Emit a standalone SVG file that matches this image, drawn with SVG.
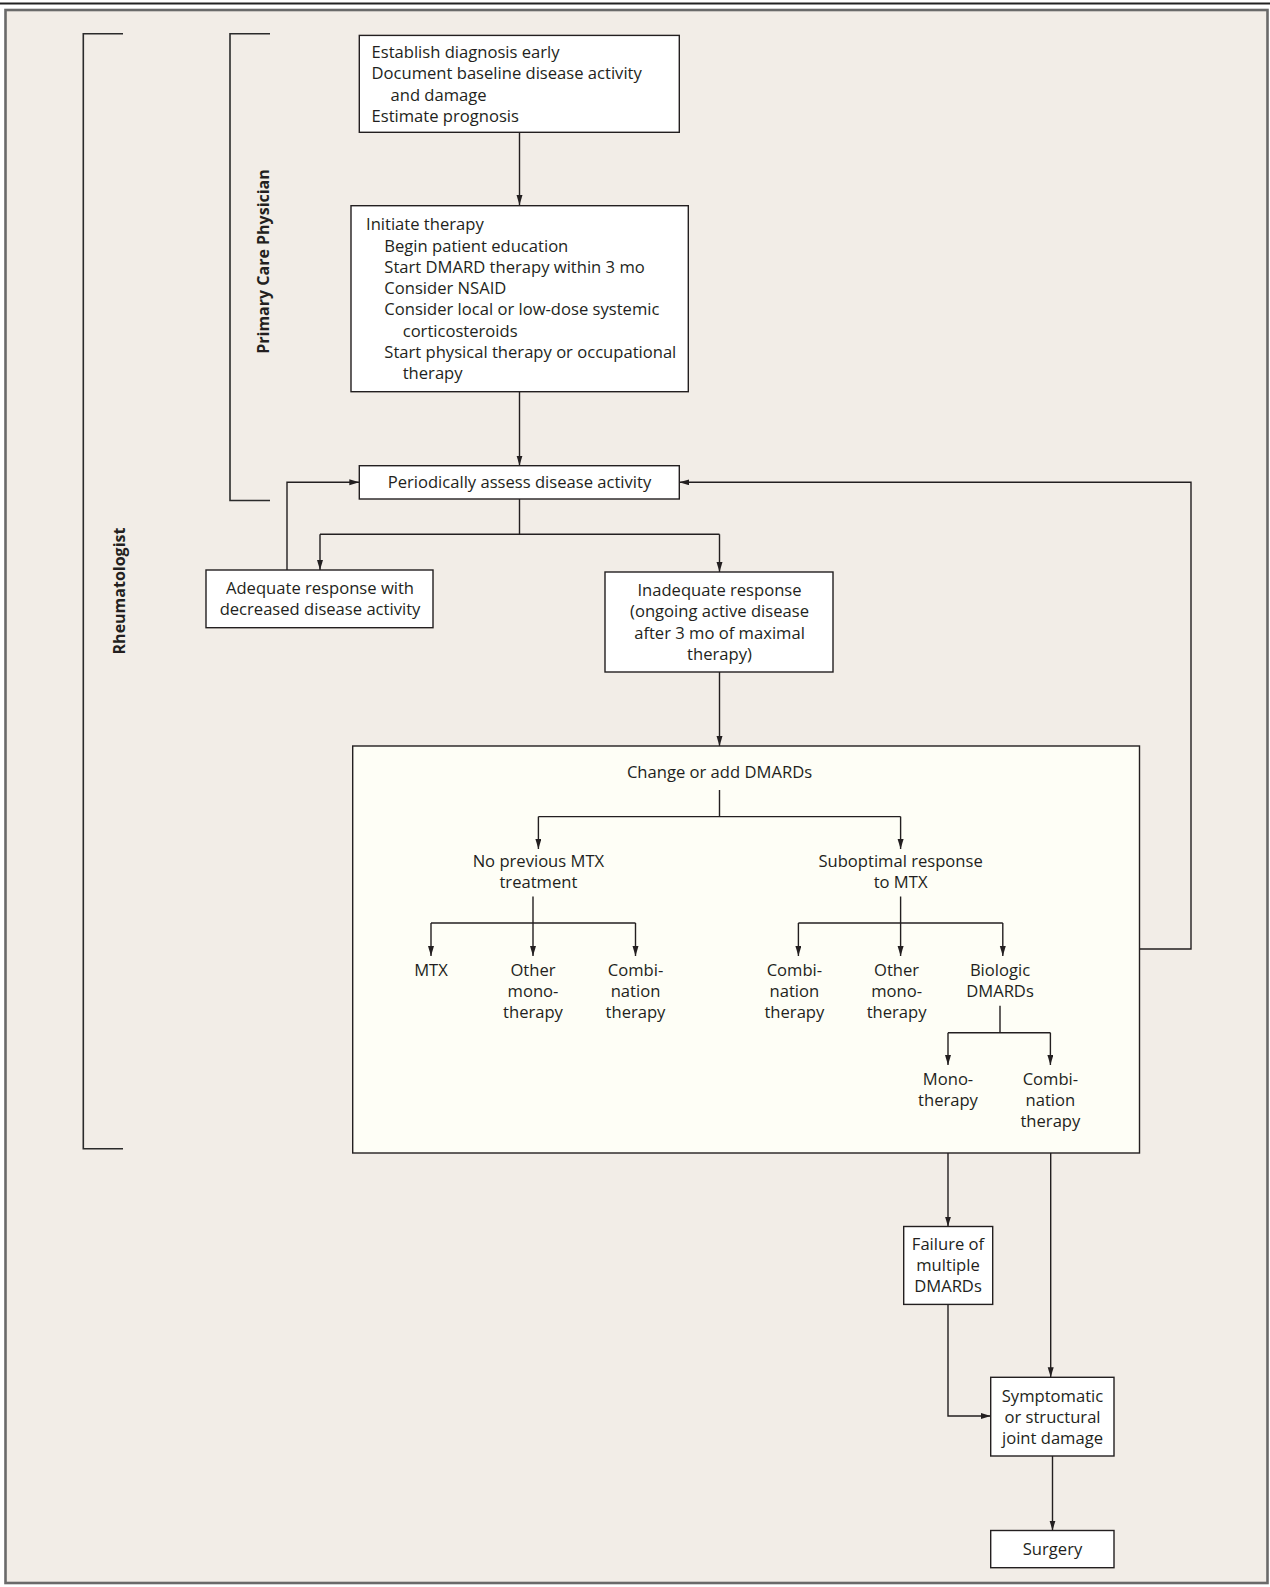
<svg xmlns="http://www.w3.org/2000/svg" width="1270" height="1587" viewBox="0 0 1270 1587">
<defs>
<marker id="ah" markerUnits="userSpaceOnUse" markerWidth="11" markerHeight="7" refX="10" refY="3" orient="auto">
<path d="M0,0 L10,3 L0,6 Z" fill="#231F20"/>
</marker>
<style>
.box{fill:#FFFFFF;stroke:#231F20;stroke-width:1.4}
.big{fill:#FEFEF6;stroke:#231F20;stroke-width:1.4}
.t{font-family:"Open Sans","Liberation Sans",sans-serif;font-size:16.6px;fill:#231F20}
.c{text-anchor:middle}
.lbl{font-family:"Open Sans","Liberation Sans",sans-serif;font-size:16px;font-weight:bold;fill:#231F20;text-anchor:middle}
.ln{fill:none;stroke:#231F20;stroke-width:1.4}
.ar{fill:none;stroke:#231F20;stroke-width:1.4;marker-end:url(#ah)}
.br{fill:none;stroke:#2b2b2b;stroke-width:1.6}
</style>
</defs>
<rect x="0" y="0" width="1270" height="1587" fill="#FFFFFF"/>
<line x1="0" y1="3.5" x2="1270" y2="3.5" stroke="#222" stroke-width="2"/>
<rect x="5.5" y="10" width="1262" height="1573" fill="#F2EDE7" stroke="#6a6a6a" stroke-width="2.6"/>

<g id="bracket-rheumatologist">
<path class="br" d="M123,33.7 H83.3 V1148.7 H123"/>
<text class="lbl" transform="translate(125,591) rotate(-90)">Rheumatologist</text>
</g>
<g id="bracket-pcp">
<path class="br" d="M270,33.7 H230 V500.5 H270"/>
<text class="lbl" transform="translate(268.5,261.5) rotate(-90)">Primary Care Physician</text>
</g>

<g id="connectors">
<line class="ar" x1="519.5" y1="132.3" x2="519.5" y2="205"/>
<line class="ar" x1="519.5" y1="391.7" x2="519.5" y2="465.5"/>
<path class="ln" d="M519.5,499 V534.3 M320,534.3 H719.5"/>
<line class="ar" x1="320" y1="534.3" x2="320" y2="570"/>
<line class="ar" x1="719.5" y1="534.3" x2="719.5" y2="572"/>
<path class="ar" d="M287,570 V482.3 H359.3"/>
<line class="ar" x1="719.5" y1="672" x2="719.5" y2="746"/>
<path class="ar" d="M1139.5,949 H1191 V482.3 H679.3"/>
<line class="ar" x1="948" y1="1153" x2="948" y2="1226.5"/>
<line class="ar" x1="1050.7" y1="1153" x2="1050.7" y2="1377.3"/>
<path class="ar" d="M948,1304.4 V1416 H990.7"/>
<line class="ar" x1="1052.5" y1="1456" x2="1052.5" y2="1530.5"/>
</g>

<g id="n-diagnosis">
<rect class="box" x="359.3" y="35.4" width="320" height="96.9"/>
<text class="t" x="371.5" y="58">Establish diagnosis early</text>
<text class="t" x="371.5" y="79.3">Document baseline disease activity</text>
<text class="t" x="390.5" y="100.6">and damage</text>
<text class="t" x="371.5" y="121.9">Estimate prognosis</text>
</g>

<g id="n-initiate">
<rect class="box" x="351" y="205.7" width="337.3" height="186"/>
<text class="t" x="366" y="230">Initiate therapy</text>
<text class="t" x="384.3" y="251.5">Begin patient education</text>
<text class="t" x="384.3" y="272.8">Start DMARD therapy within 3 mo</text>
<text class="t" x="384.3" y="294">Consider NSAID</text>
<text class="t" x="384.3" y="315.4">Consider local or low-dose systemic</text>
<text class="t" x="402.7" y="336.7">corticosteroids</text>
<text class="t" x="384.3" y="358">Start physical therapy or occupational</text>
<text class="t" x="402.7" y="379.3">therapy</text>
</g>

<g id="n-assess">
<rect class="box" x="359.3" y="465.7" width="320" height="33.3"/>
<text class="t c" x="519.5" y="488.3">Periodically assess disease activity</text>
</g>

<g id="n-adequate">
<rect class="box" x="206" y="570" width="227" height="57.7"/>
<text class="t c" x="320" y="594">Adequate response with</text>
<text class="t c" x="320" y="615.3">decreased disease activity</text>
</g>

<g id="n-inadequate">
<rect class="box" x="605" y="572" width="228" height="100"/>
<text class="t c" x="719.5" y="596">Inadequate response</text>
<text class="t c" x="719.5" y="617.3">(ongoing active disease</text>
<text class="t c" x="719.5" y="638.6">after 3 mo of maximal</text>
<text class="t c" x="719.5" y="659.9">therapy)</text>
</g>

<g id="n-change">
<rect class="big" x="352.7" y="746" width="786.8" height="407"/>
<text class="t c" x="719.5" y="778">Change or add DMARDs</text>
<g id="inner-connectors">
<path class="ln" d="M719.5,790 V816.6 M538.4,816.6 H900.6"/>
<line class="ar" x1="538.4" y1="816.6" x2="538.4" y2="849"/>
<line class="ar" x1="900.6" y1="816.6" x2="900.6" y2="849"/>
<path class="ln" d="M431,923 H635.5"/>
<line class="ar" x1="533" y1="896.5" x2="533" y2="956"/>
<line class="ar" x1="431" y1="923" x2="431" y2="956"/>
<line class="ar" x1="635.5" y1="923" x2="635.5" y2="956"/>
<path class="ln" d="M798.4,923 H1002.8"/>
<line class="ar" x1="900.6" y1="896.5" x2="900.6" y2="956"/>
<line class="ar" x1="798.4" y1="923" x2="798.4" y2="956"/>
<line class="ar" x1="1002.8" y1="923" x2="1002.8" y2="956"/>
<path class="ln" d="M1000,1005.7 V1032.7 M948,1032.7 H1050.4"/>
<line class="ar" x1="948" y1="1032.7" x2="948" y2="1065"/>
<line class="ar" x1="1050.4" y1="1032.7" x2="1050.4" y2="1065"/>
</g>
</g>

<g id="n-nomtx">
<text class="t c" x="538.4" y="867">No previous MTX</text>
<text class="t c" x="538.4" y="888.3">treatment</text>
</g>
<g id="n-subopt">
<text class="t c" x="900.6" y="867">Suboptimal response</text>
<text class="t c" x="900.6" y="888.3">to MTX</text>
</g>
<g id="n-mtx">
<text class="t c" x="431" y="975.5">MTX</text>
</g>
<g id="n-othermono1">
<text class="t c" x="533" y="975.5">Other</text>
<text class="t c" x="533" y="996.8">mono-</text>
<text class="t c" x="533" y="1018.1">therapy</text>
</g>
<g id="n-combi1">
<text class="t c" x="635.5" y="975.5">Combi-</text>
<text class="t c" x="635.5" y="996.8">nation</text>
<text class="t c" x="635.5" y="1018.1">therapy</text>
</g>
<g id="n-combi2">
<text class="t c" x="794.4" y="975.5">Combi-</text>
<text class="t c" x="794.4" y="996.8">nation</text>
<text class="t c" x="794.4" y="1018.1">therapy</text>
</g>
<g id="n-othermono2">
<text class="t c" x="896.6" y="975.5">Other</text>
<text class="t c" x="896.6" y="996.8">mono-</text>
<text class="t c" x="896.6" y="1018.1">therapy</text>
</g>
<g id="n-biologic">
<text class="t c" x="1000" y="975.5">Biologic</text>
<text class="t c" x="1000" y="996.8">DMARDs</text>
</g>
<g id="n-bio-mono">
<text class="t c" x="948" y="1084.7">Mono-</text>
<text class="t c" x="948" y="1106">therapy</text>
</g>
<g id="n-bio-combi">
<text class="t c" x="1050.4" y="1084.7">Combi-</text>
<text class="t c" x="1050.4" y="1106">nation</text>
<text class="t c" x="1050.4" y="1127.3">therapy</text>
</g>

<g id="n-failure">
<rect class="box" x="903.7" y="1226.5" width="89" height="77.9"/>
<text class="t c" x="948" y="1249.7">Failure of</text>
<text class="t c" x="948" y="1271">multiple</text>
<text class="t c" x="948" y="1292.3">DMARDs</text>
</g>

<g id="n-damage">
<rect class="box" x="990.7" y="1377.3" width="123.3" height="78.7"/>
<text class="t c" x="1052.5" y="1401.5">Symptomatic</text>
<text class="t c" x="1052.5" y="1422.8">or structural</text>
<text class="t c" x="1052.5" y="1444.1">joint damage</text>
</g>

<g id="n-surgery">
<rect class="box" x="990.7" y="1530.5" width="123.3" height="37.2"/>
<text class="t c" x="1052.5" y="1554.5">Surgery</text>
</g>
</svg>
